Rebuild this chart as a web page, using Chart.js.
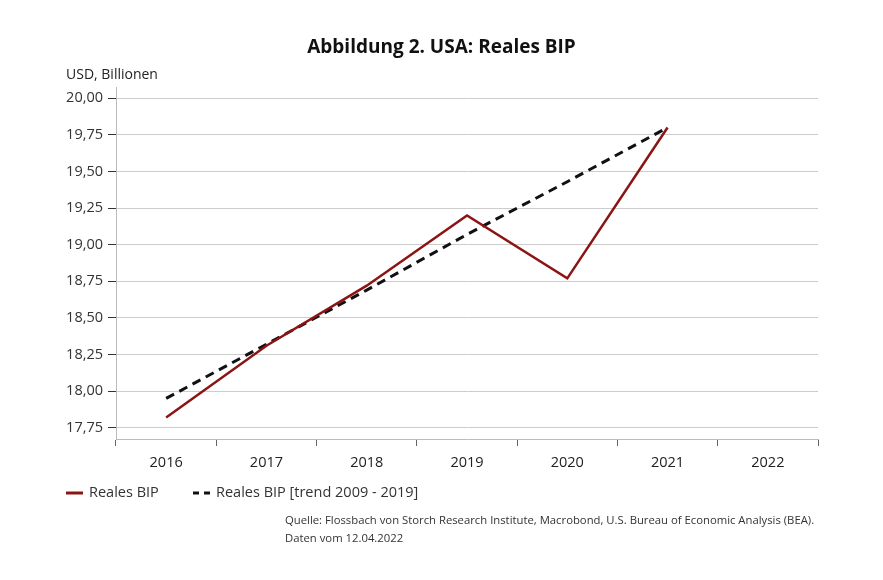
<!DOCTYPE html>
<html>
<head>
<meta charset="utf-8">
<script src="https://cdn.jsdelivr.net/npm/chart.js@4.4.1/dist/chart.umd.min.js"></script>
<style>
  body { margin: 0; background: #fff; font-family: "Open Sans", sans-serif; color: #222; }
  #wrap { position: relative; width: 883px; height: 580px; }
  #chart { position: absolute; left: 0; top: 0; }
  .txt { position: absolute; white-space: nowrap; }
  #title { left: 0; width: 883px; top: 33px; text-align: center; font-weight: bold; font-size: 19px; color: #111; }
  #unit { left: 66px; top: 64px; font-size: 14px; color: #222; }
  .leg { position: absolute; top: 482px; font-size: 14.5px; color: #333; }
  .leg svg { vertical-align: middle; margin-right: 6px; }
  #src { left: 285px; top: 511px; font-size: 11.3px; line-height: 18px; color: #333; }
</style>
</head>
<body>
<div id="wrap">
  <canvas id="chart" width="883" height="580"></canvas>
  <div class="txt" id="title">Abbildung 2. USA: Reales BIP</div>
  <div class="txt" id="unit">USD, Billionen</div>
  <div class="leg" style="left:66px"><svg width="17" height="4"><line x1="0" y1="2" x2="17" y2="2" stroke="#8b1414" stroke-width="3"/></svg>Reales BIP</div>
  <div class="leg" style="left:193px"><svg width="17" height="4"><line x1="0" y1="2" x2="17" y2="2" stroke="#111" stroke-width="3" stroke-dasharray="6,5"/></svg>Reales BIP [trend 2009 - 2019]</div>
  <div class="txt" id="src">Quelle: Flossbach von Storch Research Institute, Macrobond, U.S. Bureau of Economic Analysis (BEA).<br>Daten vom 12.04.2022</div>
</div>
<script>
const years = ['2016', '2017', '2018', '2019', '2020', '2021', '2022'];
const realGdp = [17.82, 18.31, 18.72, 19.20, 18.77, 19.80, null];
const trendGdp = [17.95, 18.32, 18.69, 19.07, 19.43, 19.80, null];
const yTicks = [17.75, 18.00, 18.25, 18.50, 18.75, 19.00, 19.25, 19.50, 19.75, 20.00];

const ctx = document.getElementById('chart').getContext('2d');
new Chart(ctx, {
  type: 'line',
  data: {
    labels: years,
    datasets: [{
      label: 'Reales BIP',
      data: realGdp,
      borderColor: '#8b1414',
      borderWidth: 2.5,
      pointRadius: 0,
      tension: 0
    }, {
      label: 'Reales BIP [trend 2009 - 2019]',
      data: trendGdp,
      borderColor: '#111',
      borderWidth: 3,
      borderDash: [9, 6],
      pointRadius: 0,
      tension: 0
    }]
  },
  options: {
    responsive: false,
    animation: false,
    layout: { padding: { left: 0, top: 87, right: 65, bottom: 101 } },
    plugins: { legend: { display: false }, tooltip: { enabled: false } },
    scales: {
      x: {
        offset: true,
        grid: { offset: true, drawOnChartArea: false, color: '#666', tickLength: 7 },
        border: { color: '#bbb', width: 1 },
        ticks: { color: '#222', font: { family: 'Open Sans', size: 14.5 }, padding: 8 },
        afterFit: s => { s.height = 40; }
      },
      y: {
        min: 17.673,
        max: 20.077,
        afterBuildTicks: s => { s.ticks = yTicks.map(v => ({ value: v })); },
        afterFit: s => { s.width = 116; },
        grid: { color: '#cccccc', tickColor: '#333', tickLength: 8 },
        border: { color: '#bbb', width: 1 },
        ticks: {
          color: '#333',
          padding: 5,
          font: { family: 'Open Sans', size: 14.5 },
          callback: v => v.toFixed(2).replace('.', ',')
        }
      }
    }
  }
});
</script>
</body>
</html>
